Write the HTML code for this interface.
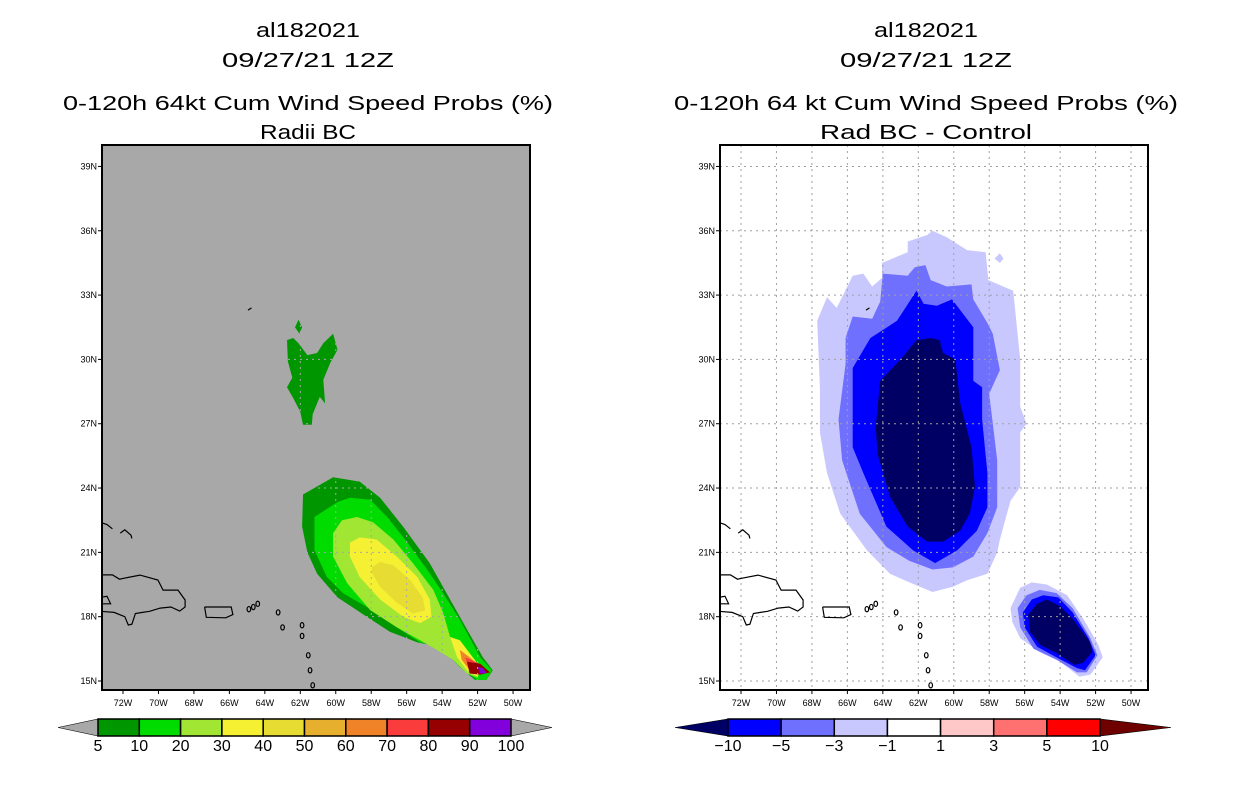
<!DOCTYPE html>
<html><head><meta charset="utf-8"><style>
html,body{margin:0;padding:0;background:#fff;width:1236px;height:800px;overflow:hidden}
svg{display:block}
text{font-family:"Liberation Sans",sans-serif}
</style></head><body>
<svg id="chart" width="1236" height="800" viewBox="0 0 1236 800" xmlns="http://www.w3.org/2000/svg">
<g font-size="20" fill="#000" text-anchor="middle">
<text x="308" y="37" textLength="104" lengthAdjust="spacingAndGlyphs">al182021</text>
<text x="308" y="67" textLength="172" lengthAdjust="spacingAndGlyphs">09/27/21 12Z</text>
<text x="308" y="110" textLength="490" lengthAdjust="spacingAndGlyphs">0-120h 64kt Cum Wind Speed Probs (%)</text>
<text x="308" y="139" textLength="96" lengthAdjust="spacingAndGlyphs">Radii BC</text>
</g>
<g font-size="20" fill="#000" text-anchor="middle">
<text x="926" y="37" textLength="104" lengthAdjust="spacingAndGlyphs">al182021</text>
<text x="926" y="67" textLength="172" lengthAdjust="spacingAndGlyphs">09/27/21 12Z</text>
<text x="926" y="110" textLength="504" lengthAdjust="spacingAndGlyphs">0-120h 64 kt Cum Wind Speed Probs (%)</text>
<text x="926" y="139" textLength="212" lengthAdjust="spacingAndGlyphs">Rad BC - Control</text>
</g>
<defs>
<clipPath id="clipL"><rect x="102" y="145" width="428" height="545"/></clipPath>
<clipPath id="clipR"><rect x="720" y="145" width="428" height="545"/></clipPath>
</defs>
<g id="left"></g>
<g id="right"></g>
<g id="cbL"></g>
<g id="cbR"></g>
</svg>
<script>
// ---- axis data ----
const latTicks = [15,18,21,24,27,30,33,36,39];
const lonTicks = [72,70,68,66,64,62,60,58,56,54,52,50];

// ---- left panel contour data (lon W, lat N) ----
const lvl5 = [[61.85,23.7],[60.15,24.5],[58.65,24.3],[57.5,23.55],[56.2,22.2],[54.7,20.5],[53.55,18.8],[52.6,17.4],[51.7,16.1],[51.15,15.5],[51.5,15.05],[52.15,15.05],[53.0,15.65],[54.1,16.6],[55.4,16.8],[56.95,17.3],[58.25,18.0],[59.9,18.9],[61.05,20.0],[61.6,21.0],[61.9,22.2]];
const lvl5b = [[62.75,30.9],[62.4,31.0],[62.1,30.75],[61.6,30.2],[61.05,30.3],[60.7,30.75],[60.15,31.2],[59.9,30.45],[60.3,29.85],[60.7,29.05],[60.6,27.95],[60.9,28.25],[61.3,27.45],[61.35,26.95],[61.85,26.95],[62.0,27.55],[62.4,28.2],[62.75,28.7],[62.45,29.15],[62.7,29.9]];
const lvl5c = [[62.3,31.5],[62.1,31.85],[61.9,31.5],[62.05,31.2]];
const lvl10 = [[61.2,22.65],[59.9,23.35],[59.2,23.55],[58.05,23.45],[57.1,22.65],[56.0,21.5],[54.85,20.2],[53.95,19.1],[53.0,17.85],[51.85,16.1],[51.2,15.5],[51.5,15.05],[52.05,15.05],[53.0,15.65],[54.1,16.6],[55.25,16.8],[56.55,17.5],[58.25,18.45],[59.6,19.1],[60.5,19.85],[61.2,21.1]];
const lvl20 = [[60.15,21.9],[59.65,22.5],[58.8,22.65],[57.9,22.4],[56.75,21.6],[55.65,20.5],[54.5,19.25],[53.95,18.2],[53.55,17.05],[52.6,16.1],[51.85,15.5],[52.0,15.15],[52.6,15.35],[53.4,16.0],[54.3,16.45],[55.25,16.9],[56.55,17.5],[58.05,18.3],[59.35,19.55],[60.15,20.8]];
const lvl30 = [[59.2,21.45],[58.65,21.7],[57.7,21.6],[56.55,20.8],[55.4,19.85],[54.7,18.8],[54.6,18.0],[55.25,17.7],[56.2,18.0],[57.5,18.8],[58.65,19.85],[59.2,20.8]];
const lvl30b = [[53.55,17.05],[53.0,16.9],[52.45,16.3],[51.85,15.65],[52.0,15.2],[52.6,15.5],[53.15,16.1]];
const lvl40 = [[57.95,20.3],[57.5,20.55],[56.75,20.4],[55.8,19.7],[55.1,18.9],[54.95,18.3],[55.65,18.15],[56.55,18.65],[57.5,19.4],[57.95,20.05]];
const lvl60 = [[53.0,16.45],[52.45,16.1],[51.7,15.6],[51.85,15.35],[52.45,15.5],[52.9,16.0]];
const lvl70 = [[52.7,16.1],[52.0,15.85],[51.6,15.5],[52.45,15.5]];
const lvl80 = [[52.6,15.9],[51.85,15.8],[51.3,15.4],[51.85,15.3],[52.45,15.35]];
const lvl90 = [[52.0,15.65],[51.7,15.6],[51.5,15.35],[51.85,15.35]];

// ---- right panel contour data ----
const dLight = [[67.7,31.8],[67.15,32.9],[66.6,32.4],[65.7,33.9],[65.1,34.0],[64.6,33.4],[64.05,33.8],[64.05,34.5],[62.6,35.0],[62.6,35.5],[61.5,35.8],[61.2,36.0],[60.4,35.7],[59.25,35.1],[58.2,35.0],[58.05,33.7],[56.65,33.2],[56.25,30.0],[56.25,27.8],[55.9,27.0],[56.25,26.6],[56.25,24.05],[56.8,23.4],[57.4,21.6],[57.55,21.0],[58.1,20.0],[59.25,19.7],[60.05,19.4],[61.2,19.15],[62.5,19.6],[63.6,20.0],[64.9,21.1],[66.4,22.8],[67.15,24.7],[67.55,26.6],[67.55,28.7]];
const dMed = [[66.1,31.0],[65.7,32.0],[64.6,31.9],[64.15,32.7],[64.0,34.0],[62.6,33.9],[62.2,34.3],[61.6,34.4],[61.3,33.7],[60.4,33.4],[59.0,33.5],[58.9,32.8],[58.1,31.7],[57.8,31.2],[57.4,29.5],[58.0,28.4],[57.55,25.3],[57.55,23.1],[58.1,21.9],[58.9,20.8],[60.05,20.3],[61.2,20.2],[62.5,20.6],[63.8,21.25],[65.3,22.8],[66.3,25.3],[66.5,27.2],[66.1,29.8]];
const dBlue = [[65.7,29.6],[64.7,31.0],[63.2,31.8],[62.1,33.2],[61.7,32.6],[60.95,32.5],[60.1,32.8],[58.9,31.5],[58.9,29.0],[58.4,28.7],[58.4,27.2],[58.1,24.7],[58.1,23.1],[58.7,22.0],[59.8,21.1],[61.05,20.5],[62.3,21.1],[63.8,22.2],[65.1,24.7],[65.7,25.9]];
const dNavy = [[64.15,29.0],[63.0,30.0],[62.1,30.9],[61.3,31.0],[60.8,30.9],[60.6,30.3],[59.9,30.0],[59.65,28.0],[59.0,25.9],[58.8,24.05],[59.1,22.8],[59.65,22.0],[60.6,21.5],[61.5,21.5],[62.6,22.2],[63.6,23.6],[64.3,25.6],[64.4,26.85]];
const eLight = [[56.8,18.4],[56.25,19.35],[55.6,19.6],[54.75,19.5],[53.6,19.0],[52.7,17.9],[51.85,16.7],[51.6,16.1],[52.3,15.3],[52.9,15.2],[54.0,15.9],[55.15,16.35],[56.25,17.0],[56.7,17.75]];
const eMed = [[56.4,18.4],[55.9,19.0],[55.15,19.25],[54.2,19.1],[53.3,18.4],[52.3,17.0],[51.9,16.2],[52.5,15.4],[53.05,15.4],[54.2,16.0],[55.5,16.5],[56.25,17.5]];
const eBlue = [[56.1,18.2],[55.6,18.8],[54.95,19.0],[54.1,18.9],[53.3,18.2],[52.4,17.0],[52.0,16.2],[52.6,15.5],[53.05,15.6],[54.2,16.1],[55.3,16.6],[56.0,17.5]];
const eNavy = [[55.8,18.1],[55.3,18.6],[54.75,18.8],[54.0,18.5],[53.3,17.9],[52.3,16.8],[52.2,16.35],[52.7,15.85],[53.2,15.75],[54.2,16.3],[55.15,16.7],[55.7,17.3]];
const dSpeck = [[57.7,34.7],[57.4,34.95],[57.2,34.7],[57.4,34.5]];

// ---- coastlines ----
const hispaniola = [[73.3,19.95],[72.6,19.95],[72.2,19.75],[71.9,19.8],[71.04,19.94],[70.03,19.71],[69.74,19.24],[68.9,19.24],[68.5,18.78],[68.5,18.45],[68.8,18.26],[69.3,18.45],[69.9,18.4],[70.5,18.25],[70.9,18.2],[71.3,18.15],[71.5,17.65],[71.7,17.61],[71.9,18.0],[72.5,18.2],[73.3,18.25]];
const cubaTip = [[73.3,18.9],[72.9,18.95],[72.7,18.6],[73.3,18.6]];
const puertoRico = [[67.4,18.45],[65.9,18.45],[65.8,18.1],[66.2,17.95],[67.3,17.97],[67.4,18.45]];
const turks = [[73.3,22.4],[72.9,22.3],[72.6,22.1]];
const turks2 = [[72.15,21.9],[71.9,22.05],[71.55,21.8],[71.5,21.65]];
const smallIslands = [[64.4,18.6],[63.25,18.2],[63.0,17.5],[61.9,17.6],[61.9,17.1],[61.55,16.2],[61.45,15.5],[61.3,14.8],[64.9,18.35],[64.65,18.45]];
const bermuda = [[64.95,32.3],[64.75,32.4]];

// ---- colorbar data ----
const leftLevels = ["5","10","20","30","40","50","60","70","80","90","100"];
const leftColors = ["#009600","#00dc00","#a0e632","#f5f032","#e6dc32","#e6af2d","#f08228","#fa3c3c","#960000","#8200dc"];
const rightLevels = ["-10","-5","-3","-1","1","3","5","10"];
const rightColors = ["#0000ff","#7070ff","#c8c8ff","#ffffff","#ffc8c8","#ff7070","#ff0000"];

const NS="http://www.w3.org/2000/svg";
function mk(tag, attrs, parent){const e=document.createElementNS(NS,tag);for(const k in attrs)e.setAttribute(k,attrs[k]);parent.appendChild(e);return e;}
function makeAxes(x0){
  const left=x0, right=x0+428, top=145, bottom=690;
  const lonX = lon => x0+21 + (72-lon)*17.73;
  const latY = lat => 681 - (lat-15)*21.44;
  return {left,right,top,bottom,lonX,latY};
}
function pts(arr, ax){return arr.map(p=>ax.lonX(p[0]).toFixed(1)+","+ax.latY(p[1]).toFixed(1)).join(" ");}

function drawPanel(g, x0, clipId, bg, grid, fills){
  const ax = makeAxes(x0);
  const bgR = mk("rect",{x:ax.left,y:ax.top,width:428,height:545,fill:bg},g);
  
  
  const cg = mk("g",{"clip-path":"url(#"+clipId+")"},g);
  
  
  fills.forEach(f=>{
    const p = mk("polygon",{points:pts(f[0],ax),fill:f[1]},cg);
    
    
  });
  // grid
  const gg = mk("g",{stroke:grid,"stroke-width":1,"stroke-dasharray":"2,4"},cg);
  
  
  latTicks.forEach(l=>mk("line",{x1:ax.left,x2:ax.right,y1:ax.latY(l),y2:ax.latY(l)},gg));
  lonTicks.forEach(l=>mk("line",{x1:ax.lonX(l),x2:ax.lonX(l),y1:ax.top,y2:ax.bottom},gg));
  // coast
  const coast = mk("g",{stroke:"#000","stroke-width":1.2,fill:"none"},cg);
  
  
  mk("polyline",{points:pts(hispaniola,ax)},coast);
  mk("polyline",{points:pts(cubaTip,ax)},coast);
  mk("polyline",{points:pts(puertoRico,ax)},coast);
  mk("polyline",{points:pts(turks,ax)},coast);
  mk("polyline",{points:pts(turks2,ax)},coast);
  mk("polyline",{points:pts(bermuda,ax)},coast);
  smallIslands.forEach(s=>mk("ellipse",{cx:ax.lonX(s[0]),cy:ax.latY(s[1]),rx:1.8,ry:2.6},coast));
  // frame
  const fr = mk("rect",{x:ax.left,y:ax.top,width:428,height:545,fill:"none",stroke:"#000","stroke-width":2},g);
  
  
  // ticks & labels
  const tl = mk("g",{"font-size":9,fill:"#000"},g);
  
  
  latTicks.forEach(l=>{
    mk("line",{x1:ax.left-4,x2:ax.left,y1:ax.latY(l),y2:ax.latY(l),stroke:"#000"},tl);
    const t=mk("text",{x:ax.left-5,y:ax.latY(l)+3,"text-anchor":"end"},tl);
    t.textContent=l+"N";
    
    
  });
  lonTicks.forEach(l=>{
    mk("line",{x1:ax.lonX(l),x2:ax.lonX(l),y1:ax.bottom,y2:ax.bottom+4,stroke:"#000"},tl);
    const t=mk("text",{x:ax.lonX(l),y:ax.bottom+16,"text-anchor":"middle"},tl);
    t.textContent=l+"W";
    
    
  });
}

drawPanel(document.getElementById("left"),102,"clipL","#a8a8a8","#a8a8a8",[
  [lvl5,"#009600","contour-5"],[lvl5b,"#009600","contour-5-north"],[lvl5c,"#009600","contour-5-speck"],
  [lvl10,"#00dc00","contour-10"],[lvl20,"#a0e632","contour-20"],[lvl30,"#f5f032","contour-30"],
  [lvl30b,"#f5f032","contour-30-tip"],[lvl40,"#e6dc32","contour-40"],[lvl60,"#f08228","contour-60"],
  [lvl70,"#fa3c3c","contour-70"],[lvl80,"#960000","contour-80"],[lvl90,"#8200dc","contour-90"]
]);
drawPanel(document.getElementById("right"),720,"clipR","#ffffff","#a0a0a0",[
  [dLight,"#c8c8ff","diff-minus1"],[dSpeck,"#c8c8ff","diff-minus1-speck"],[dMed,"#7070ff","diff-minus3"],[dBlue,"#0000ff","diff-minus5"],[dNavy,"#000064","diff-minus10"],
  [eLight,"#c8c8ff","diff2-minus1"],[eMed,"#7070ff","diff2-minus3"],[eBlue,"#0000ff","diff2-minus5"],[eNavy,"#000064","diff2-minus10"]
]);

function colorbar(g, x0, x1, tL, tR, levels, colors, lowCol, highCol){
  const y=719, h=17, n=colors.length, w=(x1-x0)/n;
  const lt=mk("polygon",{points:`${tL},${y+h/2} ${x0},${y} ${x0},${y+h}`,fill:lowCol,stroke:"#000","stroke-width":0.6},g);
  
  
  const rt=mk("polygon",{points:`${tR},${y+h/2} ${x1},${y} ${x1},${y+h}`,fill:highCol,stroke:"#000","stroke-width":0.6},g);
  
  
  colors.forEach((c,i)=>{
    const r=mk("rect",{x:x0+i*w,y:y,width:w,height:h,fill:c,stroke:"#000","stroke-width":1.5},g);
    
    
  });
  levels.forEach((l,i)=>{
    const t=mk("text",{x:x0+i*w,y:751,"text-anchor":"middle","font-size":16,fill:"#000"},g);
    t.textContent=l.replace("-","\u2212");
    
    
  });
}
colorbar(document.getElementById("cbL"),98,511,58,552,leftLevels,leftColors,"#a8a8a8","#a8a8a8");
colorbar(document.getElementById("cbR"),728,1100,675,1171,rightLevels,rightColors,"#000064","#6e0000");
</script>
</body></html>
